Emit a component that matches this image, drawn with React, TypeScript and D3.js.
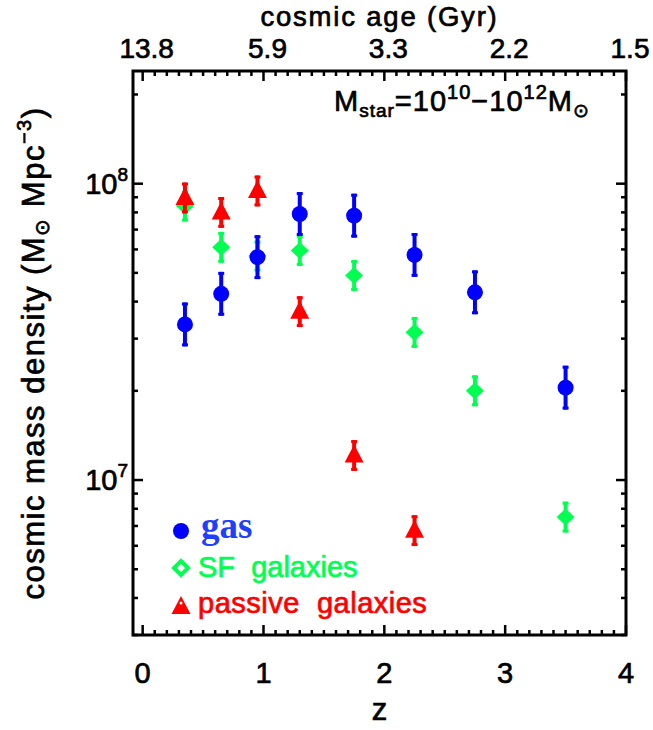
import React from "react";
import * as d3 from "d3";

// ---- data ----
const gasZ = [0.35, 0.65, 0.95, 1.3, 1.75, 2.25, 2.75, 3.5];
const gasVal = [3.35e7, 4.25e7, 5.65e7, 7.9e7, 7.8e7, 5.75e7, 4.3e7, 2.05e7];
const gasErrDex = [0.074, 0.074, 0.074, 0.074, 0.074, 0.074, 0.074, 0.074];

const sfZ = [0.35, 0.65, 0.95, 1.3, 1.75, 2.25, 2.75, 3.5];
const sfVal = [8.4e7, 6.1e7, 5.7e7, 5.95e7, 4.9e7, 3.15e7, 2.0e7, 7.5e6];
const sfErrDex = [0.052, 0.052, 0.052, 0.052, 0.052, 0.052, 0.052, 0.052];

const pasZ = [0.35, 0.65, 0.95, 1.3, 1.75, 2.25];
const pasVal = [8.95e7, 8.0e7, 9.45e7, 3.7e7, 1.21e7, 6.75e6];
const pasErrDex = [0.052, 0.052, 0.052, 0.052, 0.052, 0.052];

const zTicks = [0, 1, 2, 3, 4];
const zTickLabels = ["0", "1", "2", "3", "4"];
const ageTickLabels = ["13.8", "5.9", "3.3", "2.2", "1.5"];
const yMajor = [1e7, 1e8];
const yMajorExp = ["7", "8"];

const BLUE = "#0000ff";
const GREEN = "#00ff50";
const RED = "#ff0000";
const FONT = "'Liberation Sans', Arial, sans-serif";

export default function App() {
  const W = 653, H = 730;
  const L = 133, R = 626, T = 71, B = 635;
  const x = d3.scaleLinear().domain([-0.08, 4]).range([L, R]);
  const y = d3.scaleLog().domain([3e6, 2.4e8]).range([B, T]);

  const minorX = d3.range(1, 40).map((i) => i / 10).filter((v) => Math.abs(v - Math.round(v)) > 1e-6);
  const minorY: number[] = [];
  [6, 7, 8].forEach((d) => {
    for (let m = 2; m <= 9; m++) {
      const v = m * Math.pow(10, d);
      if (v >= 3e6 && v <= 2.4e8) minorY.push(v);
    }
  });

  const errBar = (zx: number, v: number, e: number, color: string, key: string) => {
    const yt = y(v * Math.pow(10, e));
    const yb = y(v / Math.pow(10, e));
    const cx = x(zx);
    return (
      <g key={key}>
        <line x1={cx} x2={cx} y1={yt} y2={yb} stroke={color} strokeWidth={4} />
        <rect x={cx - 3} y={yt} width={6} height={3} fill={color} />
        <rect x={cx - 3} y={yb - 3} width={6} height={3} fill={color} />
      </g>
    );
  };

  const tri = (cx: number, cy: number) =>
    `M${cx},${cy - 11} L${cx + 9.5},${cy + 7} L${cx - 9.5},${cy + 7} Z`;
  const dia = (cx: number, cy: number, w: number, h: number) =>
    `M${cx},${cy - h} L${cx + w},${cy} L${cx},${cy + h} L${cx - w},${cy} Z`;

  const tw = 2.5;
  const txtStroke = { stroke: "currentColor", strokeWidth: 0.7 } as any;

  return (
    <svg width={W} height={H} style={{ position: "absolute", left: 0, top: 0, background: "#fff" }} fontFamily={FONT}>
      <rect width={W} height={H} fill="#fff" />

      {/* data: SF */}
      {sfZ.map((z, i) => errBar(z, sfVal[i], sfErrDex[i], GREEN, "sfe" + i))}
      {sfZ.map((z, i) => (
        <path key={"sf" + i} d={dia(x(z), y(sfVal[i]), 9, 8.5)} fill={GREEN} />
      ))}
      {/* gas */}
      {gasZ.map((z, i) => errBar(z, gasVal[i], gasErrDex[i], BLUE, "ge" + i))}
      {gasZ.map((z, i) => (
        <circle key={"g" + i} cx={x(z)} cy={y(gasVal[i])} r={8} fill={BLUE} />
      ))}
      {/* passive */}
      {pasZ.map((z, i) => errBar(z, pasVal[i], pasErrDex[i], RED, "pe" + i))}
      {pasZ.map((z, i) => (
        <path key={"p" + i} d={tri(x(z), y(pasVal[i]))} fill={RED} />
      ))}

      {/* frame */}
      <rect x={L} y={T} width={R - L} height={B - T} fill="none" stroke="#000" strokeWidth={3} />

      {/* x ticks bottom & top */}
      {zTicks.map((t) => (
        <g key={"xt" + t}>
          <line x1={x(t)} x2={x(t)} y1={B} y2={B - 10} stroke="#000" strokeWidth={tw} />
          <line x1={x(t)} x2={x(t)} y1={T} y2={T + 10} stroke="#000" strokeWidth={tw} />
        </g>
      ))}
      {minorX.map((t, i) => (
        <g key={"xm" + i}>
          <line x1={x(t)} x2={x(t)} y1={B} y2={B - 5} stroke="#000" strokeWidth={tw} />
          <line x1={x(t)} x2={x(t)} y1={T} y2={T + 5} stroke="#000" strokeWidth={tw} />
        </g>
      ))}
      {/* y ticks left & right */}
      {yMajor.map((t, i) => (
        <g key={"yt" + i}>
          <line x1={L} x2={L + 10} y1={y(t)} y2={y(t)} stroke="#000" strokeWidth={tw} />
          <line x1={R} x2={R - 10} y1={y(t)} y2={y(t)} stroke="#000" strokeWidth={tw} />
        </g>
      ))}
      {minorY.map((t, i) => (
        <g key={"ym" + i}>
          <line x1={L} x2={L + 5} y1={y(t)} y2={y(t)} stroke="#000" strokeWidth={tw} />
          <line x1={R} x2={R - 5} y1={y(t)} y2={y(t)} stroke="#000" strokeWidth={tw} />
        </g>
      ))}

      <g fill="#000" color="#000" {...txtStroke}>
        {/* x tick labels */}
        {zTicks.map((t, i) => (
          <text key={"xl" + i} x={x(t)} y={683} fontSize={29} textAnchor="middle">
            {zTickLabels[i]}
          </text>
        ))}
        {zTicks.map((t, i) => (
          <text key={"al" + i} x={x(t) + 4} y={58} fontSize={28} textAnchor="middle">
            {ageTickLabels[i]}
          </text>
        ))}
        <text x={(L + R) / 2} y={720} fontSize={31} textAnchor="middle">z</text>
        <text x={(L + R) / 2} y={26} fontSize={27.5} textAnchor="middle" letterSpacing={1.8}>
          cosmic age (Gyr)
        </text>

        {/* y tick labels */}
        {yMajor.map((t, i) => (
          <text key={"yl" + i} x={128} y={y(t) + 10} fontSize={29} textAnchor="end">
            10<tspan fontSize={19} dy={-13}>{yMajorExp[i]}</tspan>
          </text>
        ))}

        {/* y title */}
        <text
          transform={`translate(44,${(T + B) / 2}) rotate(-90)`}
          fontSize={31}
          textAnchor="middle"
          letterSpacing={1.5}
        >
          cosmic mass density (M<tspan fontSize={20} dy={5}>⊙</tspan>
          <tspan dy={-5}> Mpc</tspan>
          <tspan fontSize={20} dy={-13}>−3</tspan>
          <tspan dy={13}>)</tspan>
        </text>

        {/* annotation */}
        <text x={334} y={111} fontSize={29} letterSpacing={1}>
          M<tspan fontSize={19} dy={6}>star</tspan>
          <tspan dy={-6}>=10</tspan>
          <tspan fontSize={20} dy={-12}>10</tspan>
          <tspan dy={12}>−10</tspan>
          <tspan fontSize={20} dy={-12}>12</tspan>
          <tspan dy={12}>M</tspan>
          <tspan fontSize={19} dy={6}>⊙</tspan>
        </text>
      </g>

      {/* legend */}
      <circle cx={181} cy={531} r={8} fill={BLUE} />
      <text x={201} y={538} fontSize={37} fontWeight="bold" fontFamily="'Liberation Serif', 'Times New Roman', serif" fill="#1f3fff">
        gas
      </text>
      <path d={dia(181, 568, 7, 7)} fill="none" stroke={GREEN} strokeWidth={4} />
      <text x={198} y={577} fontSize={29} fill={GREEN} color={GREEN} {...txtStroke} style={{ whiteSpace: "pre" }}>
        {"SF  galaxies"}
      </text>
      <path d={tri(181, 607)} fill={RED} />
      <circle cx={181} cy={603} r={1.5} fill="#fff" />
      <text x={198} y={613} fontSize={29} letterSpacing={0.5} fill={RED} color={RED} {...txtStroke} style={{ whiteSpace: "pre" }}>
        {"passive  galaxies"}
      </text>
    </svg>
  );
}
